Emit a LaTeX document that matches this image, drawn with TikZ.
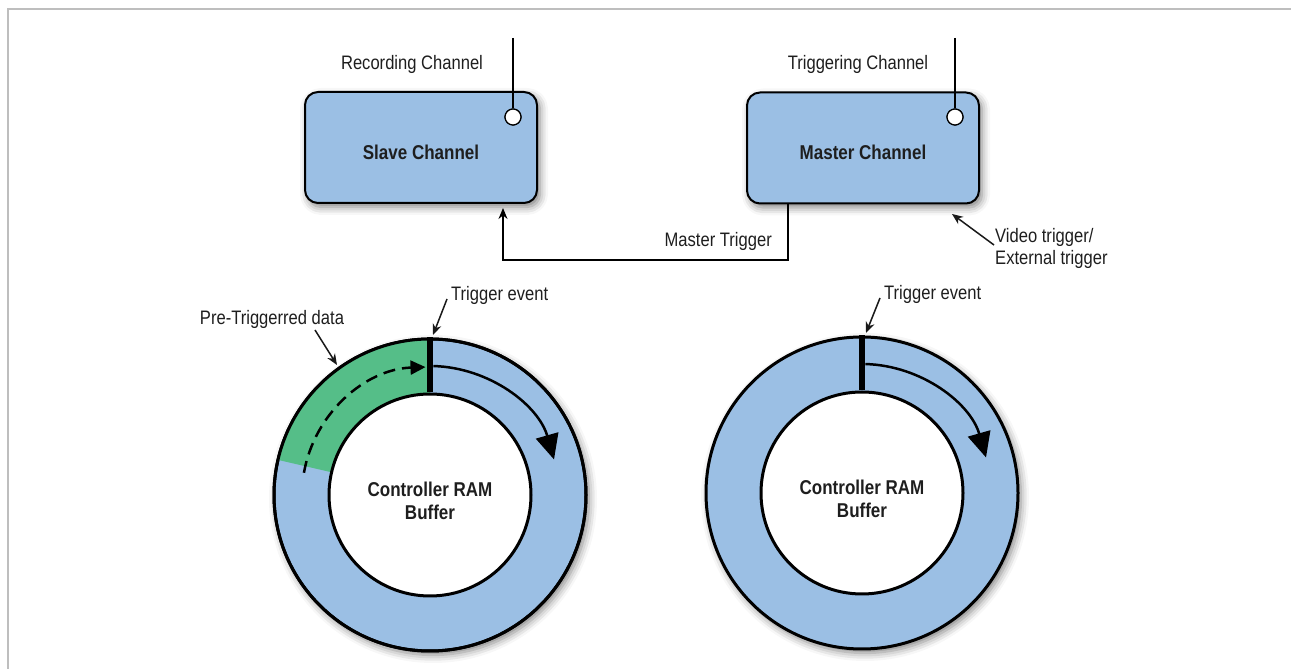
\documentclass[tikz,border=0pt]{standalone}
\usepackage{fontspec}
\setmainfont{Liberation Sans}[FakeStretch=0.85]
\usetikzlibrary{arrows.meta,shadows.blur,calc}
\definecolor{ringblue}{RGB}{155,191,228}
\definecolor{pregreen}{RGB}{85,190,136}
\definecolor{txt}{RGB}{30,30,30}
\definecolor{framegray}{RGB}{190,190,190}
\begin{document}
\begin{tikzpicture}[x=1pt,y=1pt,
  font=\fontsize{19.5}{22}\selectfont, text=txt,
  softshadow/.style={blur shadow={shadow xshift=3pt,shadow yshift=-4pt,shadow blur radius=8pt,shadow opacity=50}},
  chanbox/.style={draw=black, line width=2pt, fill=ringblue, rounded corners=13pt,
    minimum width=232pt, minimum height=111pt, inner sep=0pt, text height=24pt, text depth=0pt,
    font=\fontsize{20}{22}\selectfont\bfseries, softshadow},
  port/.style={circle, draw=black, line width=1.2pt, fill=white, minimum size=16pt, inner sep=0pt},
  lbl/.style={inner sep=1pt},
  thinarr/.style={draw=black!90, line width=1.5pt, -{Stealth[length=11pt,width=9pt]}},
  wire/.style={draw=black, line width=2pt},
  ring/.style={circle, minimum size=312pt, inner sep=0pt, fill=ringblue, draw=black, line width=3pt, softshadow},
  hole/.style={circle, minimum size=202pt, inner sep=0pt, fill=white, draw=black, line width=3pt},
  holetext/.style={align=center, inner sep=0pt, font=\fontsize{20}{23}\selectfont\bfseries},
  bar/.style={draw=black, line width=6pt},
  flow/.style={draw=black, line width=2.5pt, -{Triangle[length=25pt,width=23pt]}},
  preflow/.style={draw=black, line width=2.5pt, dash pattern=on 12pt off 7pt, -{Triangle[length=15pt,width=14pt]}}
]
\useasboundingbox (0,0) rectangle (1291,669);
\draw[framegray, line width=1.5pt] (8,0) -- (8,660) -- (1291,660);

% channel boxes
\node[chanbox] (slave) at (421,521.5) {Slave Channel};
\node[chanbox] (master) at (863,521) {Master Channel};
\node[lbl] (rec) at (412,605) {Recording Channel};
\node[lbl] (trg) at (858,605) {Triggering Channel};
\coordinate (sTop) at (513,631);
\coordinate (mTop) at (955,631);
\node[port] (sport) at (513,552) {};
\node[port] (mport) at (955,552) {};
\draw[wire] (sTop) -- (sport);
\draw[wire] (mTop) -- (mport);
\node[port] at (sport) {};
\node[port] at (mport) {};

% master trigger
\coordinate (mtx) at (788,409);
\coordinate (stx) at (503,461);
\draw[draw=black, line width=1.5pt, -{Stealth[length=11pt,width=9pt]}] (master.south -| mtx) -- (mtx) -| (stx);
\node[lbl, anchor=east] (mtl) at (773,428) {Master Trigger};

% video trigger
\node[lbl, anchor=west, align=left] (vt) at (994,421) {Video trigger/\\External trigger};
\coordinate (vtt) at (952,455);
\draw[thinarr] ([yshift=3pt]vt.west) -- (vtt);

% left ring
\node[ring] (ringL) at (430,174) {};
\fill[pregreen] ([shift={(90:156)}]ringL.center) arc[start angle=90,end angle=167,radius=156]
  -- ([shift={(167:101)}]ringL.center) arc[start angle=167,end angle=90,radius=101] -- cycle;
\draw[black, line width=3pt] (ringL.center) circle[radius=156];
\node[hole] (ramL) at (430,174) {};
\node[holetext] (ramLt) at (430,168) {Controller RAM\\Buffer};
\draw[bar] (ramL.north) -- (ringL.north);
\draw[flow] ([shift={(88.5:129)}]ringL.center) arc[start angle=88.5,end angle=16,radius=129];
\draw[preflow] ([shift={(170:128)}]ringL.center) arc[start angle=170,end angle=92,radius=128];

\node[lbl, anchor=west] (teL) at (450,374) {Trigger event};
\coordinate (teLt) at (433,334);
\draw[thinarr] (447,370) -- (teLt);
\node[lbl] (pre) at (272,350) {Pre-Triggerred data};
\coordinate (pret) at (337,304);
\draw[thinarr] (315,339) -- (pret);

% right ring
\node[ring] (ringR) at (862,176) {};
\node[hole] (ramR) at (862,176) {};
\node[holetext] (ramRt) at (862,170) {Controller RAM\\Buffer};
\draw[bar] (ramR.north) -- (ringR.north);
\draw[flow] ([shift={(88.5:129)}]ringR.center) arc[start angle=88.5,end angle=16,radius=129];

\node[lbl, anchor=west] (teR) at (883,375) {Trigger event};
\coordinate (teRt) at (866,336);
\draw[thinarr] (880,371) -- (teRt);
\end{tikzpicture}
\end{document}
